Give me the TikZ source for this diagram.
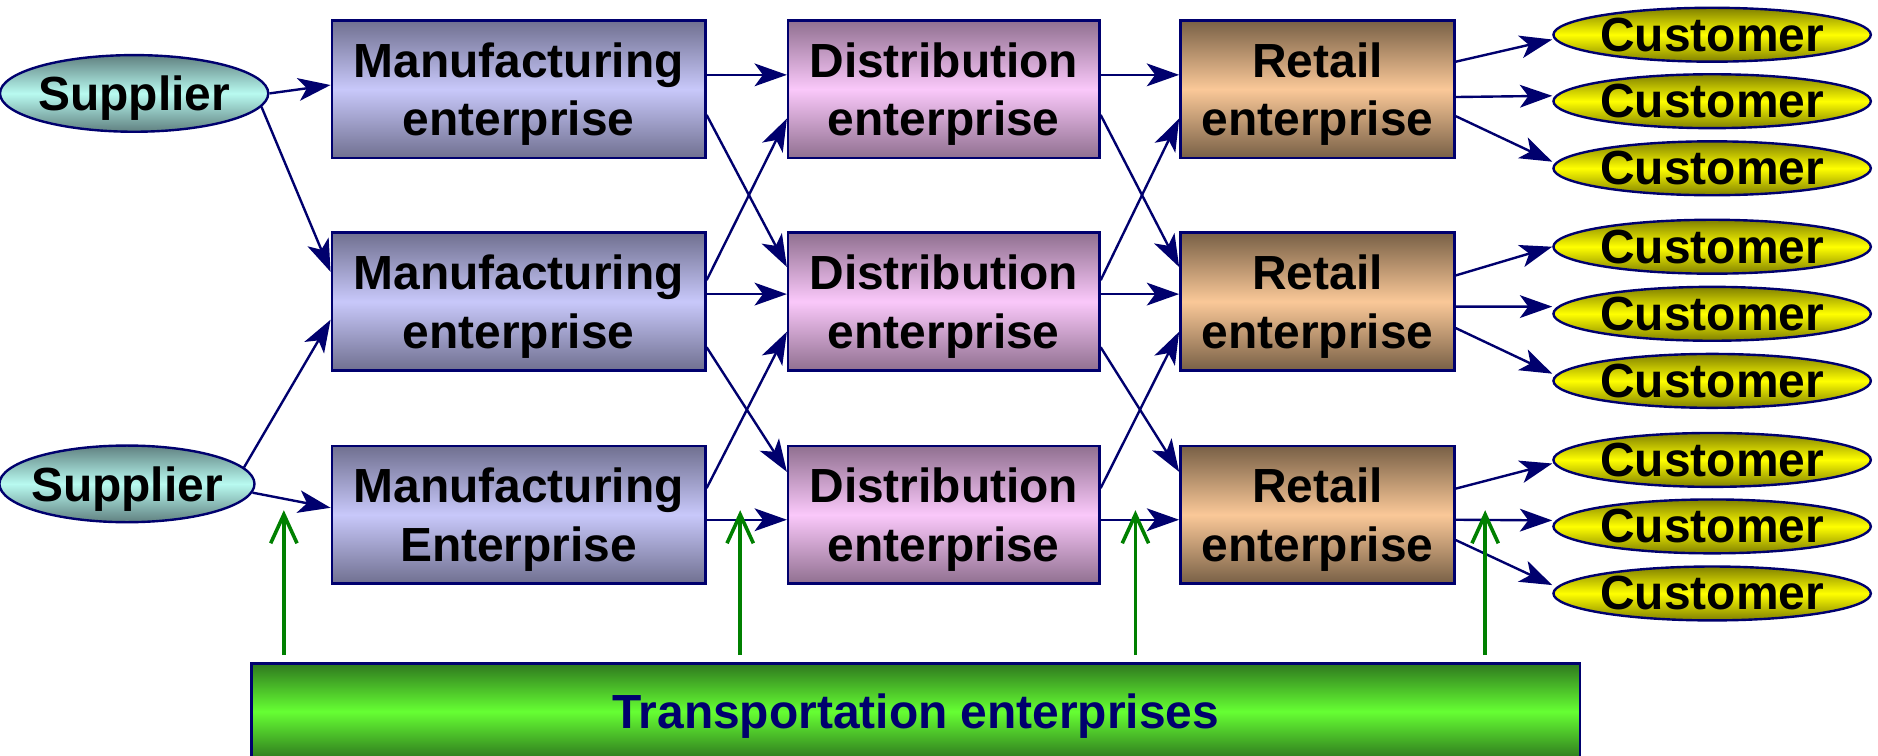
\documentclass[tikz,border=0pt]{standalone}
\usepackage{fontspec}
\setmainfont{Liberation Sans}
\usetikzlibrary{shapes.geometric,arrows.meta}
\definecolor{navyc}{RGB}{0,0,110}
\definecolor{greenc}{RGB}{0,128,0}
\definecolor{manD}{RGB}{112,112,144}
\definecolor{manL}{RGB}{200,200,250}
\definecolor{disD}{RGB}{144,112,144}
\definecolor{disL}{RGB}{250,200,250}
\definecolor{retD}{RGB}{120,96,70}
\definecolor{retL}{RGB}{250,200,152}
\definecolor{supD}{RGB}{96,128,128}
\definecolor{supL}{RGB}{184,250,240}
\definecolor{cusD}{RGB}{128,128,0}
\definecolor{cusL}{RGB}{255,255,0}
\definecolor{traD}{RGB}{46,120,30}
\definecolor{traL}{RGB}{102,255,51}
\begin{document}
\begin{tikzpicture}[x=0.5pt,y=-0.5pt,
  font=\fontsize{20}{24.5}\selectfont\bfseries,
  box/.style={draw=navyc,line width=1pt,inner sep=0pt,align=center,minimum height=57.5pt,text depth=0pt},
  mbox/.style={box,minimum width=156pt,top color=manD,bottom color=manD,middle color=manL},
  dbox/.style={box,minimum width=130pt,top color=disD,bottom color=disD,middle color=disL},
  rbox/.style={box,minimum width=114.5pt,top color=retD,bottom color=retD,middle color=retL},
  supp/.style={ellipse,draw=navyc,line width=1pt,inner sep=0pt,minimum height=32pt,
    top color=supD,bottom color=supD,middle color=supL},
  cust/.style={ellipse,draw=navyc,line width=1pt,inner sep=0pt,minimum width=132.5pt,minimum height=22.5pt,
    top color=cusD,bottom color=cusD,middle color=cusL,label={center:Customer}},
  flow/.style={draw=navyc,line width=1pt,-{Stealth[length=13.5pt,width=9.5pt,inset=3.5pt]}},
  lift/.style={draw=greenc,line width=1.5pt,-{Straight Barb[length=12pt,width=11pt]}},
]
\clip (0,0) rectangle (1568,631);
\fill[white] (0,0) rectangle (1568,631);

% suppliers
\node[supp,minimum width=112pt,label={[text depth=0pt]center:Supplier}] (s1) at (112,78) {};
\node[supp,minimum width=106.5pt,label={[text depth=0pt]center:Supplier}] (s2) at (106,404) {};

% manufacturing
\node[mbox] (m1) at (433,74.5) {Manufacturing\\enterprise};
\node[mbox] (m2) at (433,251.75) {Manufacturing\\enterprise};
\node[mbox] (m3) at (433,429.75) {Manufacturing\\Enterprise};

% distribution
\node[dbox] (d1) at (788,74.5) {Distribution\\enterprise};
\node[dbox] (d2) at (788,251.75) {Distribution\\enterprise};
\node[dbox] (d3) at (788,429.75) {Distribution\\enterprise};

% retail
\node[rbox] (r1) at (1100,74.5) {Retail\\enterprise};
\node[rbox] (r2) at (1100,251.75) {Retail\\enterprise};
\node[rbox] (r3) at (1100,429.75) {Retail\\enterprise};

% customers
\node[cust] (c1) at (1429.5,29) {};
\node[cust] (c2) at (1429.5,84.5) {};
\node[cust] (c3) at (1429.5,140.5) {};
\node[cust] (c4) at (1429.5,206) {};
\node[cust] (c5) at (1429.5,262) {};
\node[cust] (c6) at (1429.5,318) {};
\node[cust] (c7) at (1429.5,384) {};
\node[cust] (c8) at (1429.5,439.5) {};
\node[cust] (c9) at (1429.5,495.5) {};

% transportation
\node[draw=navyc,line width=1pt,minimum width=554.5pt,minimum height=40pt,inner sep=0pt,text depth=0pt,
  top color=traD,bottom color=traD,middle color=traL,text=navyc] (tb) at (764.5,594)
  {Transportation enterprises};

% supplier -> manufacturing
\draw[flow] (s1.east) -- ([yshift=1.75pt]m1.west);
\draw[flow] (s1.-6) -- ([yshift=12.4pt]m2.west);
\draw[flow] (s2.8) -- ([yshift=-7.6pt]m2.west);
\draw[flow] (s2.-4) -- ([yshift=2.9pt]m3.west);

% manufacturing -> distribution
\draw[flow] ([yshift=6pt]m1.east) -- ([yshift=6pt]d1.west);
\draw[flow] ([yshift=-10.75pt]m1.east) -- ([yshift=14.4pt]d2.west);
\draw[flow] ([yshift=8.9pt]m2.east) -- ([yshift=-12.25pt]d1.west);
\draw[flow] ([yshift=3.1pt]m2.east) -- ([yshift=3.1pt]d2.west);
\draw[flow] ([yshift=-19.1pt]m2.east) -- ([yshift=17.9pt]d3.west);
\draw[flow] ([yshift=11.1pt]m3.east) -- ([yshift=-12.6pt]d2.west);
\draw[flow] ([yshift=-2.1pt]m3.east) -- ([yshift=-2.1pt]d3.west);

% distribution -> retail
\draw[flow] ([yshift=6pt]d1.east) -- ([yshift=6pt]r1.west);
\draw[flow] ([yshift=-10.75pt]d1.east) -- ([yshift=14.4pt]r2.west);
\draw[flow] ([yshift=8.9pt]d2.east) -- ([yshift=-12.25pt]r1.west);
\draw[flow] ([yshift=3.1pt]d2.east) -- ([yshift=3.1pt]r2.west);
\draw[flow] ([yshift=-19.1pt]d2.east) -- ([yshift=17.9pt]r3.west);
\draw[flow] ([yshift=11.1pt]d3.east) -- ([yshift=-12.6pt]r2.west);
\draw[flow] ([yshift=-2.1pt]d3.east) -- ([yshift=-2.1pt]r3.west);

% retail -> customers
\draw[flow] ([yshift=11.5pt]r1.east) -- ([yshift=-2pt]c1.west);
\draw[flow] ([yshift=-3.25pt]r1.east) -- ([yshift=2.25pt]c2.west);
\draw[flow] ([yshift=-11.25pt]r1.east) -- ([yshift=2.75pt]c3.west);
\draw[flow] ([yshift=10.9pt]r2.east) -- ([yshift=0pt]c4.west);
\draw[flow] ([yshift=-2.1pt]r2.east) -- ([yshift=3pt]c5.west);
\draw[flow] ([yshift=-11.1pt]r2.east) -- ([yshift=3pt]c6.west);
\draw[flow] ([yshift=10.9pt]r3.east) -- ([yshift=-1.5pt]c7.west);
\draw[flow] ([yshift=-2.1pt]r3.east) -- ([yshift=2.5pt]c8.west);
\draw[flow] ([yshift=-10.6pt]r3.east) -- ([yshift=3.5pt]c9.west);

% transportation support arrows
\coordinate (g1) at (237,426);
\coordinate (g2) at (618,426);
\coordinate (g3) at (948,426);
\coordinate (g4) at (1240,426);
\foreach \g in {g1,g2,g3,g4}
  \draw[lift,shorten <=3pt] (\g |- tb.north) -- (\g);
\end{tikzpicture}
\end{document}
